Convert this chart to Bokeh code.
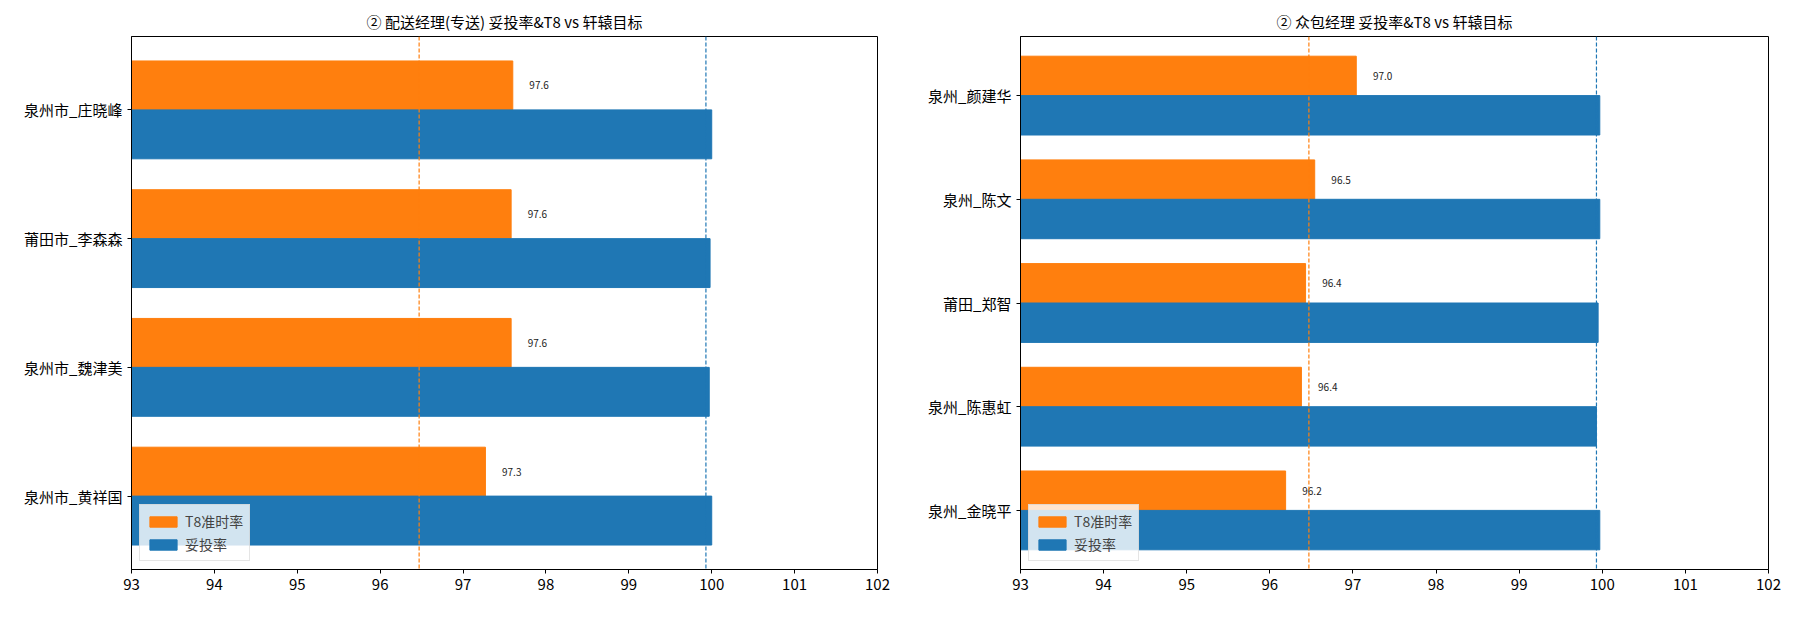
from bokeh.plotting import figure
from bokeh.layouts import row
from bokeh.models import Span, FixedTicker, ColumnDataSource, Range1d, Legend, LegendItem
from bokeh.embed import file_html
from bokeh.resources import INLINE

names1 = ["泉州市_庄晓峰", "莆田市_李森森", "泉州市_魏津美", "泉州市_黄祥国"]
t8_1 = [97.6, 97.58, 97.58, 97.27]
tt_1 = [100.0, 99.98, 99.97, 100.0]
names2 = ["泉州_颜建华", "泉州_陈文", "莆田_郑智", "泉州_陈惠虹", "泉州_金晓平"]
t8_2 = [97.04, 96.54, 96.43, 96.38, 96.19]
tt_2 = [99.97, 99.97, 99.95, 99.93, 99.97]
t8_target = 96.47
tt_target = 99.93
titles = ["② 配送经理(专送) 妥投率&T8 vs 轩辕目标", "② 众包经理 妥投率&T8 vs 轩辕目标"]
xticks = list(range(93, 103))
ORANGE, BLUE = "#ff7f0e", "#1f77b4"
FONT = "Noto Sans CJK SC"

def make(names, t8, tt, title, left_border, fw):
    n = len(names)
    pos = [n - 1 - i for i in range(n)]
    p = figure(width=left_border + fw + 14, height=608, output_backend="svg", toolbar_location=None,
               x_range=Range1d(93, 102), y_range=Range1d(-0.57, n - 1 + 0.57),
               min_border_left=left_border, min_border_right=14, min_border_top=36, min_border_bottom=31,
               frame_width=fw, frame_height=533)
    p.title.text = title
    p.title.align = "center"
    p.title.text_font = FONT
    p.title.text_font_size = "15px"
    p.title.text_font_style = "normal"
    p.title.text_color = "black"
    src_o = ColumnDataSource(dict(y=[v + 0.19 for v in pos], right=t8,
                                  lx=[v + 0.2 for v in t8], lbl=[f"{v:.1f}" for v in t8]))
    src_b = ColumnDataSource(dict(y=[v - 0.19 for v in pos], right=tt))
    ro = p.hbar(y="y", right="right", left=93, height=0.38, color=ORANGE, source=src_o)
    rb = p.hbar(y="y", right="right", left=93, height=0.38, color=BLUE, source=src_b)
    p.text(x="lx", y="y", text="lbl", source=src_o, text_font_size="10px", text_baseline="middle",
           text_color="#222222", text_font={"value": FONT})
    p.add_layout(Span(location=t8_target, dimension="height", line_color=ORANGE, line_dash="4 2", line_width=1.2))
    p.add_layout(Span(location=tt_target, dimension="height", line_color=BLUE, line_dash="4 2", line_width=1.2))
    p.xaxis.ticker = FixedTicker(ticks=xticks)
    p.yaxis.ticker = FixedTicker(ticks=pos)
    p.yaxis.major_label_overrides = {v: names[i] for i, v in enumerate(pos)}
    for ax in (p.xaxis, p.yaxis):
        ax.major_label_text_font = FONT
        ax.major_label_text_font_size = "15px"
        ax.major_label_text_color = "black"
        ax.axis_line_color = "black"
        ax.major_tick_line_color = "black"
        ax.minor_tick_line_color = None
        ax.major_tick_out = 4
        ax.major_tick_in = 0
    p.xgrid.visible = False
    p.ygrid.visible = False
    p.outline_line_color = "black"
    p.outline_line_alpha = 1
    leg = Legend(items=[LegendItem(label="T8准时率", renderers=[ro]), LegendItem(label="妥投率", renderers=[rb])],
                 location="bottom_left", label_text_font=FONT, label_text_font_size="14px",
                 background_fill_alpha=0.8, border_line_color="#cccccc", glyph_height=13, glyph_width=34,
                 spacing=3, padding=6, margin=8, label_height=17)
    p.add_layout(leg)
    return p

p1 = make(names1, t8_1, tt_1, titles[0], 131, 746)
p2 = make(names2, t8_2, tt_2, titles[1], 129, 748)
p = row(p1, p2)
open("out.html", "w").write(file_html(p, INLINE))
